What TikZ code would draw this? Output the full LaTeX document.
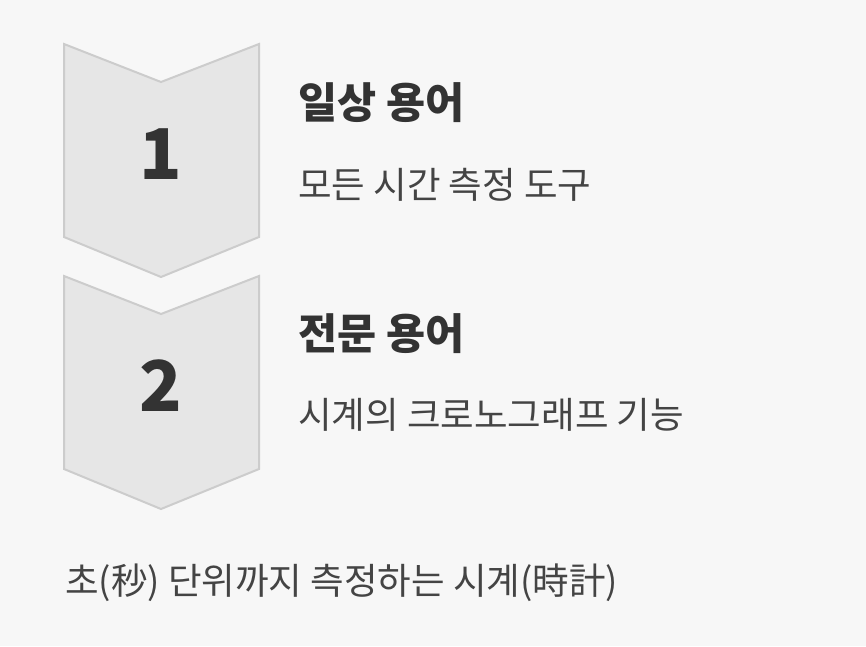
\documentclass[tikz,border=0pt]{standalone}
\usepackage{fontspec}
\setmainfont{Noto Sans CJK KR}
\usepackage{tikz}
\usetikzlibrary{positioning}
\usepackage{xcolor}

\definecolor{pagebg}{HTML}{F7F7F7}
\definecolor{chevfill}{HTML}{E6E6E6}
\definecolor{chevline}{HTML}{CCCCCC}
\definecolor{inkdark}{HTML}{333333}
\definecolor{inkmid}{HTML}{444444}

\begin{document}
\begin{tikzpicture}[x=1pt, y=-1pt,
                chevron/.style={fill=chevfill, draw=chevline, line width=2pt, line join=miter},
                stepnum/.style={inner sep=0pt, text=inkdark, font=\fontsize{70}{70}\bfseries\selectfont},
                steptitle/.style={anchor=west, inner sep=0pt, text=inkdark, font=\fontsize{42.5}{42.5}\bfseries\selectfont},
                stepnote/.style={anchor=west, inner sep=0pt, text=inkmid, font=\fontsize{36.5}{36.5}\selectfont}]

                \fill[pagebg] (0,0) rectangle (866,646);
                \useasboundingbox (0,0) rectangle (866,646);

                % two chevrons, one below the other
                \foreach \n/\dy in {1/0, 2/232} {
                    \draw[chevron] (64,44+\dy) -- (161,82+\dy) -- (259,44+\dy) -- (259,237+\dy)
                        -- (161,277+\dy) -- (64,237+\dy) -- cycle;
                    \node[stepnum] (num\n) at (161,154+\dy) {\n};
                }

                \node[steptitle] (title1) at (298,103) {일상 용어};
                \node[stepnote] (note1) at (298,185) {모든 시간 측정 도구};
                \node[steptitle] (title2) at (298,334) {전문 용어};
                \node[stepnote] (note2) at (298,415) {시계의 크로노그래프 기능};

                \node[stepnote] (footer) at (65,583) {초(秒) 단위까지 측정하는 시계(時計)};

\end{tikzpicture}
\end{document}
